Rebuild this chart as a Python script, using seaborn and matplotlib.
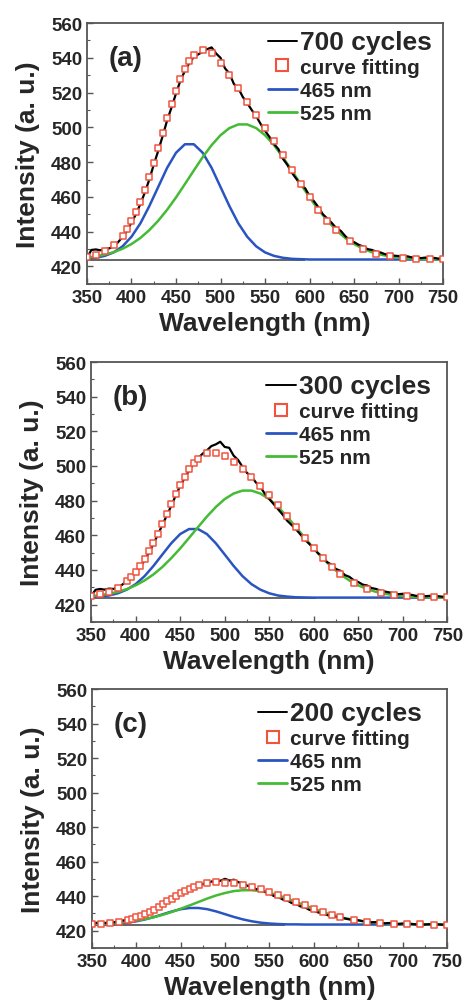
import numpy as np
import pandas as pd
import seaborn as sns
import matplotlib.pyplot as plt
from matplotlib.lines import Line2D
from matplotlib.ticker import MultipleLocator

sns.set_style("ticks")
plt.rcParams['font.family'] = ['Liberation Sans', 'DejaVu Sans']
plt.rcParams['font.weight'] = 'bold'

# x grids (nm)
wl_meas = list(range(350, 755, 5))
wl_comp = list(range(350, 760, 10))
wl_fit = ([350, 360, 370, 380] + list(range(390, 470, 5))
          + list(range(470, 640, 10)) + list(range(645, 760, 15)))

panel_tags = ['(a)', '(b)', '(c)']
cycle_labels = ['700 cycles', '300 cycles', '200 cycles']

# measured PL spectra (black)
meas_a = [425.0, 429.5, 429.8, 429.3, 430.0, 430.4, 431.5, 434.0, 437.0, 440.5,
          445.2, 450.0, 456.0, 462.5, 470.0, 478.5, 486.5, 495.0, 504.0, 511.5,
          519.5, 527.0, 532.5, 537.0, 540.5, 542.0, 543.5, 545.0, 546.0, 542.5,
          540.0, 534.0, 531.0, 525.0, 522.5, 517.5, 514.0, 510.0, 506.5, 502.0,
          498.0, 494.5, 490.5, 487.5, 482.0, 478.5, 474.0, 470.5, 467.0, 465.0,
          460.5, 457.5, 454.0, 450.0, 447.5, 445.0, 442.0, 440.5, 437.5, 435.0,
          434.0, 432.5, 431.5, 430.0, 429.5, 428.5, 428.0, 427.0, 427.2, 426.2,
          426.0, 425.6, 425.8, 425.2, 425.4, 424.8, 425.1, 424.7, 424.9, 424.5,
          424.6]
meas_b = [425.0, 428.5, 429.0, 428.6, 429.2, 429.0, 430.0, 431.5, 433.5, 435.5,
          438.5, 441.5, 445.5, 450.0, 455.0, 460.5, 466.0, 471.5, 477.0, 483.0,
          488.5, 493.0, 497.5, 501.0, 504.5, 507.0, 509.0, 511.5, 512.5, 514.0,
          511.0, 510.5, 506.0, 503.5, 499.5, 496.0, 494.0, 490.5, 488.0, 484.0,
          481.0, 478.0, 475.0, 472.0, 468.5, 466.0, 463.5, 460.5, 457.5, 455.0,
          452.5, 449.5, 447.5, 444.5, 443.0, 440.5, 439.5, 437.0, 436.0, 434.0,
          433.0, 431.5, 431.0, 429.5, 429.0, 428.0, 427.5, 427.0, 426.5, 426.0,
          426.2, 425.5, 425.6, 425.0, 425.3, 424.8, 425.0, 424.6, 424.8, 424.5,
          424.6]
meas_c = [423.5, 424.5, 424.8, 424.4, 425.0, 424.8, 425.5, 425.8, 426.5, 427.0,
          427.5, 428.5, 429.0, 430.5, 431.5, 433.0, 434.5, 436.5, 437.5, 439.5,
          441.0, 442.5, 444.0, 445.0, 446.0, 447.0, 447.5, 448.5, 448.0, 449.0,
          450.0, 449.0, 449.5, 448.0, 447.5, 446.0, 445.5, 444.0, 444.0, 442.5,
          441.5, 440.0, 439.5, 438.0, 437.5, 436.0, 435.5, 434.0, 433.5, 432.0,
          431.5, 430.5, 430.0, 429.0, 428.5, 428.0, 427.5, 427.0, 426.5, 426.3,
          426.0, 425.5, 425.2, 424.8, 424.9, 424.5, 424.2, 424.4, 424.0, 423.8,
          424.1, 423.7, 423.9, 423.6, 423.8, 423.5, 423.7, 423.4, 423.6, 423.4,
          423.5]

# fitted curve (open squares)
fit_a = [425.5, 426.8, 428.9, 432.3,
         437.8, 441.6, 446.0, 451.3, 457.2, 464.0, 471.6, 479.6, 488.0, 496.7,
         505.3, 513.5, 521.1, 528.0, 533.7, 538.3,
         541.5, 544.3, 542.5, 537.2, 530.3, 522.5, 514.8, 507.2, 499.6, 491.9,
         483.9, 475.6, 467.6, 459.7, 452.6, 446.3, 440.9,
         434.5, 430.2, 427.4, 425.8, 424.9, 424.4, 424.2, 424.1]
fit_b = [425.1, 426.0, 427.4, 429.8,
         433.5, 436.0, 438.9, 442.4, 446.3, 450.7, 455.7, 461.0, 466.6, 472.5,
         478.2, 483.8, 489.1, 493.9, 498.1, 501.6,
         504.3, 507.5, 507.7, 505.8, 502.4, 498.2, 493.6, 488.7, 483.4, 477.5,
         471.4, 464.9, 458.6, 452.4, 446.8, 441.7, 437.4,
         432.4, 428.9, 426.7, 425.4, 424.7, 424.3, 424.2, 424.1]
fit_c = [423.9, 424.1, 424.5, 425.2,
         426.2, 426.9, 427.7, 428.6, 429.7, 430.9, 432.2, 433.7, 435.2, 436.9,
         438.4, 440.0, 441.6, 443.0, 444.2, 445.3,
         446.2, 447.5, 448.0, 447.8, 447.3, 446.4, 445.3, 444.0, 442.4, 440.7,
         438.7, 436.7, 434.6, 432.7, 430.8, 429.2, 427.8,
         426.2, 425.1, 424.4, 424.0, 423.7, 423.6, 423.5, 423.5]

# 465 nm component (blue)
blue_a = [424.4, 425.0, 426.1, 428.1, 431.6, 437.1, 444.8, 454.7, 465.7, 476.7,
          485.4, 490.3, 490.3, 485.4, 476.7, 465.7, 454.7, 444.8, 437.1, 431.6,
          428.1, 426.1, 425.0, 424.4, 424.2, 424.0, 424.0, 424.0, 424.0, 424.0,
          424.0, 424.0, 424.0, 424.0, 424.0, 424.0, 424.0, 424.0, 424.0, 424.0,
          424.0]
blue_b = [424.2, 424.6, 425.2, 426.5, 428.6, 431.8, 436.4, 442.3, 448.9, 455.4,
          460.7, 463.6, 463.6, 460.7, 455.4, 448.9, 442.3, 436.4, 431.8, 428.6,
          426.5, 425.2, 424.6, 424.2, 424.1, 424.0, 424.0, 424.0, 424.0, 424.0,
          424.0, 424.0, 424.0, 424.0, 424.0, 424.0, 424.0, 424.0, 424.0, 424.0,
          424.0]
blue_c = [423.6, 423.6, 423.8, 424.1, 424.6, 425.4, 426.5, 427.9, 429.5, 431.1,
          432.4, 433.1, 433.1, 432.4, 431.1, 429.5, 427.9, 426.5, 425.4, 424.6,
          424.1, 423.8, 423.6, 423.6, 423.5, 423.5, 423.5, 423.5, 423.5, 423.5,
          423.5, 423.5, 423.5, 423.5, 423.5, 423.5, 423.5, 423.5, 423.5, 423.5,
          423.5]

# 525 nm component (green)
green_a = [425.1, 425.8, 426.8, 428.2, 430.2, 432.9, 436.4, 440.9, 446.3, 452.6,
           459.7, 467.4, 475.2, 482.9, 489.8, 495.5, 499.6, 501.7, 501.7, 499.6,
           495.5, 489.8, 482.9, 475.2, 467.4, 459.7, 452.6, 446.3, 440.9, 436.4,
           432.9, 430.2, 428.2, 426.8, 425.8, 425.1, 424.7, 424.4, 424.2, 424.1,
           424.1]
green_b = [424.9, 425.4, 426.2, 427.3, 428.9, 431.1, 433.9, 437.4, 441.7, 446.8,
           452.4, 458.5, 464.7, 470.8, 476.3, 480.9, 484.1, 485.8, 485.8, 484.1,
           480.9, 476.3, 470.8, 464.7, 458.5, 452.4, 446.8, 441.7, 437.4, 433.9,
           431.1, 428.9, 427.3, 426.2, 425.4, 424.9, 424.5, 424.3, 424.2, 424.1,
           424.1]
green_c = [423.8, 424.0, 424.2, 424.6, 425.1, 425.8, 426.7, 427.8, 429.2, 430.8,
           432.7, 434.6, 436.6, 438.6, 440.4, 441.8, 442.9, 443.4, 443.4, 442.9,
           441.8, 440.4, 438.6, 436.6, 434.6, 432.7, 430.8, 429.2, 427.8, 426.7,
           425.8, 425.1, 424.6, 424.2, 424.0, 423.8, 423.7, 423.6, 423.6, 423.5,
           423.5]

# flat background line
base_level = [424.0, 424.0, 423.5]
base_end = [595, 602, 567]

meas = [meas_a, meas_b, meas_c]
fits = [fit_a, fit_b, fit_c]
blues = [blue_a, blue_b, blue_c]
greens = [green_a, green_b, green_c]

RED = '#f0543e'
BLUE = '#2a55c0'
GREEN = '#45bb35'
SPINE = '#555555'

fig = plt.figure(figsize=(4.65, 10.03), dpi=100)
ax_rects = [[0.187, 0.716, 0.766, 0.260],
            [0.196, 0.379, 0.766, 0.259],
            [0.198, 0.054, 0.763, 0.258]]
leg_pos = [(0.508, 0.975), (0.492, 0.955), (0.468, 0.955)]

for i in range(3):
    ax = fig.add_axes(ax_rects[i])
    ax.hlines(base_level[i], 350, base_end[i], color='#4a4a4a', lw=1.2, zorder=1)
    sns.lineplot(x=wl_comp, y=blues[i], color=BLUE, lw=1.8, ax=ax, zorder=2)
    sns.lineplot(x=wl_comp, y=greens[i], color=GREEN, lw=1.8, ax=ax, zorder=2)
    sns.lineplot(x=wl_meas, y=meas[i], color='black', lw=1.6, ax=ax, zorder=3)
    sns.scatterplot(x=wl_fit, y=fits[i], marker='s', s=18, facecolor='white',
                    edgecolor=RED, linewidth=1.1, ax=ax, zorder=4)

    ax.set_xlim(350, 750)
    ax.set_ylim(410, 560)
    ax.set_xticks(range(350, 751, 50))
    ax.set_yticks(range(420, 561, 20))
    ax.xaxis.set_minor_locator(MultipleLocator(25))
    ax.yaxis.set_minor_locator(MultipleLocator(10))
    ax.tick_params(which='both', direction='in', color=SPINE, labelsize=13.5)
    ax.tick_params(which='major', length=4, width=1)
    ax.tick_params(which='minor', length=2.5, width=0.8)
    for t in ax.get_xticklabels() + ax.get_yticklabels():
        t.set_fontweight('bold')
    for sp in ax.spines.values():
        sp.set_color(SPINE)
        sp.set_linewidth(1.3)

    ax.set_xlabel('Wavelength (nm)', fontsize=19, fontweight='bold', labelpad=4)
    ax.set_ylabel('Intensity (a. u.)', fontsize=19, fontweight='bold', labelpad=8)
    ax.text(0.06, 0.865, panel_tags[i], transform=ax.transAxes, fontsize=20,
            fontweight='bold', va='center', ha='left')

    handles = [Line2D([], [], color='black', lw=1.4),
               Line2D([], [], ls='none', marker='s', ms=8, mfc='white', mec=RED, mew=1.5),
               Line2D([], [], color=BLUE, lw=2),
               Line2D([], [], color=GREEN, lw=2)]
    labels = [cycle_labels[i], 'curve fitting', '465 nm', '525 nm']
    leg = ax.legend(handles, labels, loc='upper left', bbox_to_anchor=leg_pos[i],
                    frameon=False, prop={'weight': 'bold', 'size': 15},
                    handlelength=1.4, handletextpad=0.15, labelspacing=0.2,
                    borderpad=0, borderaxespad=0)
    leg.get_texts()[0].set_fontsize(19)

fig.savefig('out.png', dpi=100, facecolor='white')
